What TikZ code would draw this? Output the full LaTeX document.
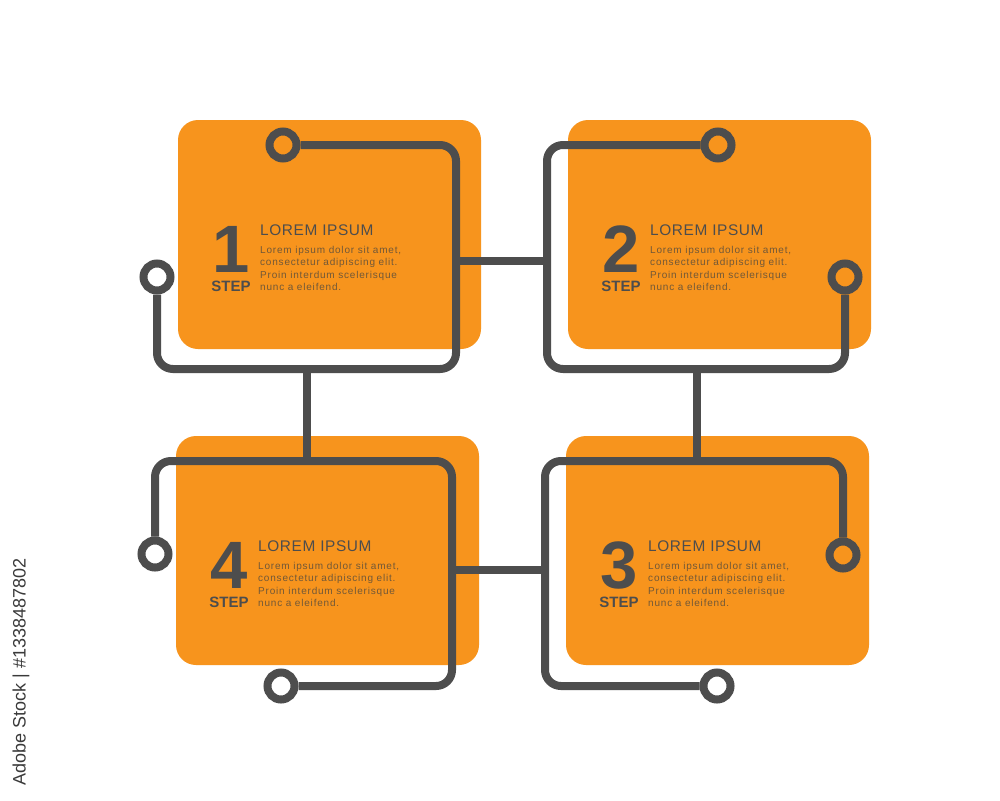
\documentclass[tikz,border=0pt]{standalone}
\usepackage{fontspec}
\setmainfont{Liberation Sans}
\newfontfamily\headfont[LetterSpace=4]{Liberation Sans}
\newfontfamily\bodyfont[LetterSpace=8]{Liberation Sans}
\definecolor{boxorange}{HTML}{F7941D}
\definecolor{wiregray}{HTML}{4D4D4D}
\definecolor{bodytext}{HTML}{715838}
\definecolor{wmgray}{HTML}{3A3A3A}
\tikzset{
  card/.style={fill=boxorange, rounded corners=20pt, minimum width=303pt, minimum height=229pt, inner sep=0pt},
  numtxt/.style={anchor=base, inner sep=0pt, text=wiregray, font=\fontsize{67}{67}\selectfont\bfseries},
  steptxt/.style={anchor=base, inner sep=0pt, text=wiregray, font=\fontsize{15}{15}\selectfont\bfseries},
  headtxt/.style={anchor=base west, inner sep=0pt, text=wiregray, font=\fontsize{15.4}{16}\selectfont\headfont},
  bodytxt/.style={anchor=base west, inner sep=0pt, text=bodytext, font=\fontsize{10}{12}\selectfont\bodyfont},
  wire/.style={draw=wiregray, line width=8pt, rounded corners=16pt},
  pin/.style={circle, draw=wiregray, line width=8pt, minimum size=27pt, inner sep=0pt},
}
\newcommand\stepcard[4]{%
  \node[card] (card#1) at (#2+151.5,#3+114.5) {};
  \node[numtxt] (num#1) at (#2+53,#3+152) {#4};
  \node[steptxt] (step#1) at (#2+53,#3+171) {STEP};
  \node[headtxt] (head#1) at (#2+82,#3+115) {LOREM IPSUM};
  \node[bodytxt] (bodyA#1) at (#2+82,#3+133) {Lorem ipsum dolor sit amet,};
  \node[bodytxt] (bodyB#1) at (#2+82,#3+145.5) {consectetur adipiscing elit.};
  \node[bodytxt] (bodyC#1) at (#2+82,#3+158) {Proin interdum scelerisque};
  \node[bodytxt] (bodyD#1) at (#2+82,#3+170.5) {nunc a eleifend.};
}
\begin{document}
\begin{tikzpicture}[x=1pt,y=-1pt]
\fill[white] (0,0) rectangle (1000,800);
\useasboundingbox (0,0) rectangle (1000,800);

\stepcard{1}{178}{120}{1}
\stepcard{2}{568}{120}{2}
\stepcard{4}{176}{436}{4}
\stepcard{3}{566}{436}{3}

% pins
\node[pin] (c1a) at (283,145) {};
\node[pin] (c1b) at (157,277) {};
\node[pin] (c2a) at (718,145) {};
\node[pin] (c2b) at (845,277) {};
\node[pin] (c4a) at (155,554) {};
\node[pin] (c4b) at (281,686) {};
\node[pin] (c3a) at (843,555) {};
\node[pin] (c3b) at (717,686) {};

% corners
\coordinate (k1a) at (456,145);
\coordinate (k1b) at (456,369);
\coordinate (k1c) at (157,369);
\coordinate (k2a) at (547,145);
\coordinate (k2b) at (547,369);
\coordinate (k2c) at (845,369);
\coordinate (k4a) at (155,461);
\coordinate (k4b) at (452,461);
\coordinate (k4c) at (452,686);
\coordinate (k3a) at (843,461);
\coordinate (k3b) at (545,461);
\coordinate (k3c) at (545,686);

\draw[wire] (c1a) -- (k1a) -- (k1b) -- (k1c) -- (c1b);
\draw[wire] (c2a) -- (k2a) -- (k2b) -- (k2c) -- (c2b);
\draw[wire] (c4a) -- (k4a) -- (k4b) -- (k4c) -- (c4b);
\draw[wire] (c3a) -- (k3a) -- (k3b) -- (k3c) -- (c3b);

% bridges
\coordinate (j12a) at (456,261);
\coordinate (j12b) at (547,261);
\coordinate (j14a) at (307,369);
\coordinate (j14b) at (307,461);
\coordinate (j23a) at (697,369);
\coordinate (j23b) at (697,461);
\coordinate (j43a) at (452,570);
\coordinate (j43b) at (545,570);
\draw[wire] (j12a) -- (j12b);
\draw[wire] (j14a) -- (j14b);
\draw[wire] (j23a) -- (j23b);
\draw[wire] (j43a) -- (j43b);

\node[rotate=90, inner sep=0pt, text=wmgray, font=\fontsize{18}{20}\selectfont] (wm) at (21,672) {Adobe Stock | \#1338487802};
\end{tikzpicture}
\end{document}
